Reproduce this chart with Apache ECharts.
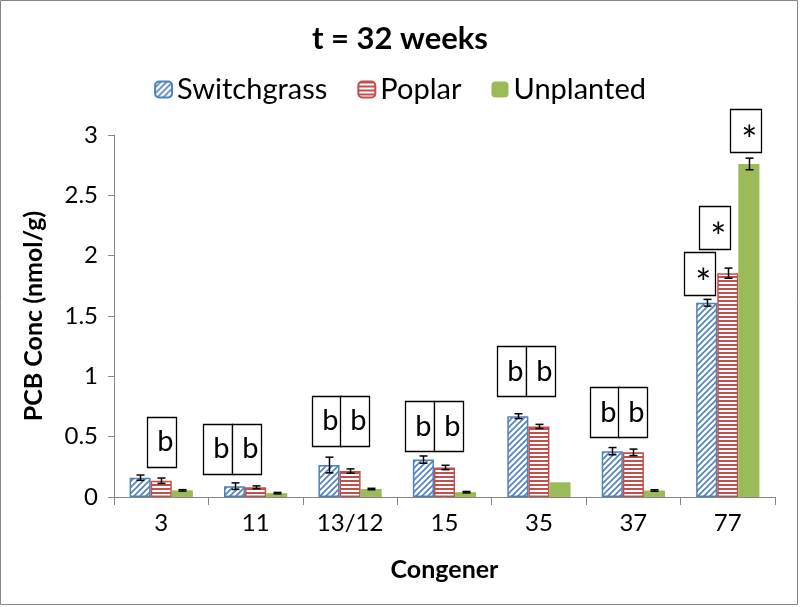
<!DOCTYPE html>
<html>
<head>
<meta charset="utf-8">
<script src="https://cdn.jsdelivr.net/npm/echarts@6/dist/echarts.min.js"></script>
<style>html,body{margin:0;padding:0;background:#fff}#c{width:800px;height:607px}</style>
</head>
<body>
<div id="c"></div>
<script>
// ---- data ----
const categories = ['3', '11', '13/12', '15', '35', '37', '77'];
const switchgrass = [0.16, 0.09, 0.265, 0.31, 0.67, 0.38, 1.61];
const poplar      = [0.135, 0.08, 0.215, 0.245, 0.585, 0.37, 1.855];
const unplanted   = [0.055, 0.032, 0.066, 0.04, 0.122, 0.054, 2.76];
const switchgrassErr = [0.022, 0.027, 0.065, 0.03, 0.02, 0.03, 0.028];
const poplarErr      = [0.022, 0.012, 0.018, 0.018, 0.017, 0.027, 0.042];
const unplantedErr   = [0.006, 0.006, 0.006, 0.006, 0, 0.006, 0.048];
const seriesNames = ['Switchgrass', 'Poplar', 'Unplanted'];
const yTicks = [0, 0.5, 1, 1.5, 2, 2.5, 3];
// annotation boxes (category, y-value of box centre, shift in category bands, text)
const annoCats  = ['3', '11', '11', '13/12', '13/12', '15', '15', '35', '35', '37', '37', '77', '77', '77'];
const annoY     = [0.456, 0.398, 0.398, 0.631, 0.631, 0.587, 0.587, 1.042, 1.042, 0.703, 0.703, 1.85, 2.234, 3.035];
const annoShift = [0, -0.40, -0.092, -0.253, 0.052, -0.267, 0.042, -0.287, 0.02, -0.31, -0.005, -0.30, -0.143, 0.19];
const annoText  = ['b', 'b', 'b', 'b', 'b', 'b', 'b', 'b', 'b', 'b', 'b', '*', '*', '*'];

// ---- styles ----
const FONT = 'Lato';
const BLUE = '#4F81BD', RED = '#C0504D', GREEN = '#9BBB59';
const CAT_GAP = 0.33;
const boxSize = { b: [29, 50], '*': [31, 43] };

function diagPattern(color) {
  const s = 6, c = document.createElement('canvas');
  c.width = s; c.height = s;
  const g = c.getContext('2d');
  g.fillStyle = '#fff'; g.fillRect(0, 0, s, s);
  g.strokeStyle = color; g.lineWidth = 1.6;
  g.beginPath();
  g.moveTo(-s, 2 * s); g.lineTo(2 * s, -s);
  g.moveTo(-s, s); g.lineTo(s, -s);
  g.moveTo(0, 2 * s); g.lineTo(2 * s, 0);
  g.stroke();
  return c;
}
function horizPattern(color) {
  const c = document.createElement('canvas');
  c.width = 4; c.height = 4;
  const g = c.getContext('2d');
  g.fillStyle = '#fff'; g.fillRect(0, 0, 4, 4);
  g.fillStyle = color; g.fillRect(0, 0, 4, 2);
  return c;
}

const chart = echarts.init(document.getElementById('c'), null, { renderer: 'canvas' });

const valueArrays = [switchgrass, poplar, unplanted];
const errArrays = [switchgrassErr, poplarErr, unplantedErr];
const errData = [];
valueArrays.forEach((arr, k) => arr.forEach((v, i) => errData.push([i, v, errArrays[k][i], k])));
const annoData = annoCats.map((c, i) => [categories.indexOf(c), annoY[i], annoShift[i]]);

const barItemStyles = [
  { color: { image: diagPattern(BLUE), repeat: 'repeat' }, borderColor: BLUE, borderWidth: 1.5 },
  { color: { image: horizPattern(RED), repeat: 'repeat' }, borderColor: RED, borderWidth: 1.5 },
  { color: GREEN, borderWidth: 0 }
];

const option = {
  animation: false,
  backgroundColor: '#fff',
  title: {
    text: 't = 32 weeks', left: 'center', top: 18,
    textStyle: { fontFamily: FONT, fontWeight: 'bold', fontSize: 31, color: '#000' }
  },
  legend: {
    top: 70, left: 'center', itemWidth: 17, itemHeight: 16, itemGap: 30,
    data: seriesNames,
    textStyle: { fontFamily: FONT, fontSize: 29, color: '#000', padding: [0, 0, 0, 0] }
  },
  grid: { left: 114, right: 25, top: 135, bottom: 110, containLabel: false },
  xAxis: {
    type: 'category', data: categories,
    axisLine: { lineStyle: { color: '#868686', width: 1 } },
    axisTick: { show: true, length: 8, lineStyle: { color: '#868686' } },
    axisLabel: { fontFamily: FONT, fontSize: 24, color: '#000', margin: 14 },
    name: 'Congener', nameLocation: 'middle', nameGap: 60,
    nameTextStyle: { fontFamily: FONT, fontWeight: 'bold', fontSize: 25, color: '#000' }
  },
  yAxis: {
    type: 'value', min: 0, max: 3, interval: 0.5,
    axisLine: { show: true, lineStyle: { color: '#868686', width: 1 } },
    axisTick: { show: true, length: 6, lineStyle: { color: '#868686' } },
    splitLine: { show: false },
    axisLabel: { fontFamily: FONT, fontSize: 24, color: '#000', margin: 16,
      formatter: v => yTicks.includes(v) ? String(v) : '' },
    name: 'PCB Conc (nmol/g)', nameLocation: 'middle', nameGap: 68, nameRotate: 90,
    nameTextStyle: { fontFamily: FONT, fontWeight: 'bold', fontSize: 25, color: '#000' }
  },
  series: [
    ...seriesNames.map((n, k) => ({
      name: n, type: 'bar', data: valueArrays[k],
      barGap: '0%', barCategoryGap: (CAT_GAP * 100) + '%',
      itemStyle: barItemStyles[k], z: 2
    })),
    {
      type: 'custom', name: 'err', data: errData, z: 5, clip: false,
      encode: { x: 0, y: 1 }, silent: true, legendHoverLink: false,
      renderItem: function (params, api) {
        const idx = api.value(0), v = api.value(1), e = api.value(2), k = api.value(3);
        if (!e) return null;
        const band = api.size([1, 0])[0];
        const bw = band * (1 - CAT_GAP) / 3;
        const cx = Math.round(api.coord([idx, 0])[0] + (k - 1) * bw) + 0.5;
        const yt = api.coord([idx, v + e])[1];
        const yb = api.coord([idx, v - e])[1];
        const st = { stroke: '#000', lineWidth: 1.5 };
        return {
          type: 'group', children: [
            { type: 'line', shape: { x1: cx, y1: yt, x2: cx, y2: yb }, style: st },
            { type: 'line', shape: { x1: cx - 4, y1: yt, x2: cx + 4, y2: yt }, style: st },
            { type: 'line', shape: { x1: cx - 4, y1: yb, x2: cx + 4, y2: yb }, style: st }
          ]
        };
      }
    },
    {
      type: 'custom', name: 'anno', data: annoData, z: 6, clip: false,
      encode: { x: 0, y: 1 }, silent: true,
      renderItem: function (params, api) {
        const idx = api.value(0), y = api.value(1), sh = api.value(2);
        const t = annoText[params.dataIndex];
        const band = api.size([1, 0])[0];
        const p = api.coord([idx, y]);
        const cx = p[0] + sh * band, cy = p[1];
        const sz = boxSize[t];
        const x0 = Math.round(cx - sz[0] / 2) + 0.5, y0 = Math.round(cy - sz[1] / 2) + 0.5;
        const star = t === '*';
        return {
          type: 'group', children: [
            { type: 'rect', shape: { x: x0, y: y0, width: sz[0], height: sz[1] },
              style: { fill: '#fff', stroke: '#000', lineWidth: 1.3 } },
            { type: 'text', style: {
                text: t, x: x0 + sz[0] - (star ? 4 : 3), y: cy + (star ? 11 : 0),
                align: 'right', verticalAlign: 'middle',
                fontFamily: FONT, fontSize: star ? 38 : 29, fill: '#000' } }
          ]
        };
      }
    }
  ],
  graphic: [{
    type: 'rect', silent: true, z: 100,
    shape: { x: 0.5, y: 0.5, width: 797, height: 604 },
    style: { fill: 'none', stroke: '#868686', lineWidth: 1 }
  }]
};
chart.setOption(option);
</script>
</body>
</html>
